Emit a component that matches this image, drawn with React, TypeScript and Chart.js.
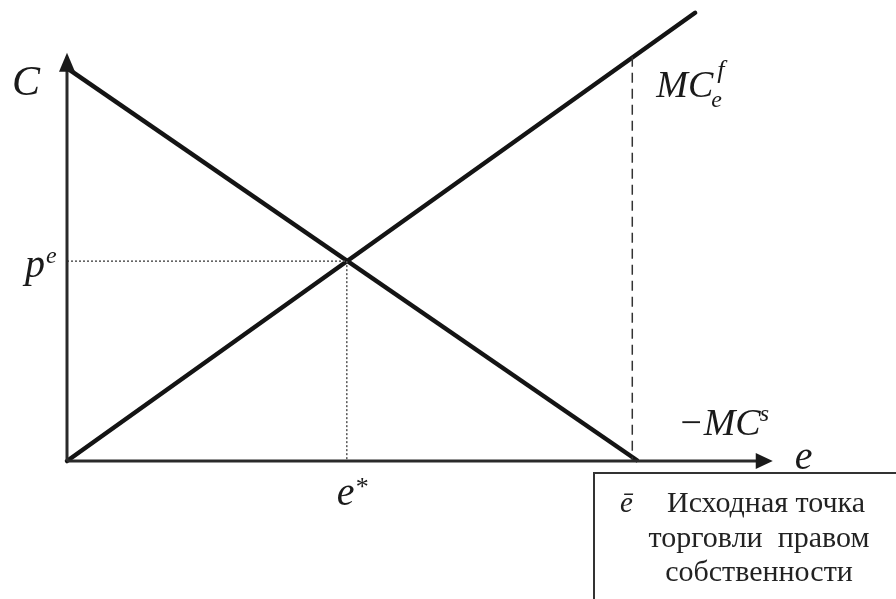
import React, { useEffect, useRef } from "react";
import { Chart, registerables } from "chart.js";

Chart.register(...registerables);

// Economic units (e on x, C on y)
const mcfX = [0, 11.0];
const mcfY = [0, 7.85];
const mcsX = [0, 10.0];
const mcsY = [6.88, 0];
const eStar = 4.9;
const pStar = 3.5;
const eDash = 9.9;
const dashTop = 7.08;
const xAxisEnd = 12.36;
const yAxisEnd = 7.15;

const boxLines = ["Исходная точка", "торговли  правом", "собственности"];

const serif = '"Liberation Serif", "DejaVu Serif", serif';

export default function App() {
  const ref = useRef<HTMLCanvasElement | null>(null);

  useEffect(() => {
    if (!ref.current) return;
    const pts = (xs: number[], ys: number[]) => xs.map((x, i) => ({ x, y: ys[i] }));

    const overlay = {
      id: "overlay",
      afterDatasetsDraw(chart: any) {
        const ctx = chart.ctx as CanvasRenderingContext2D;
        const sx = chart.scales.x;
        const sy = chart.scales.y;
        const X = (v: number) => sx.getPixelForValue(v);
        const Y = (v: number) => sy.getPixelForValue(v);
        ctx.save();
        // arrow heads
        ctx.fillStyle = "#1a1a1a";
        const ox = X(0), oy = Y(0);
        const tx = X(xAxisEnd);
        ctx.beginPath();
        ctx.moveTo(tx, oy);
        ctx.lineTo(tx - 17, oy - 8);
        ctx.lineTo(tx - 17, oy + 8);
        ctx.closePath();
        ctx.fill();
        const ty = Y(yAxisEnd);
        ctx.beginPath();
        ctx.moveTo(ox, ty);
        ctx.lineTo(ox - 8, ty + 19);
        ctx.lineTo(ox + 8, ty + 19);
        ctx.closePath();
        ctx.fill();

        const txt = (s: string, x: number, y: number, size: number, italic = true, color = "#1a1a1a") => {
          ctx.font = `${italic ? "italic " : ""}${size}px ${serif}`;
          ctx.fillStyle = color;
          ctx.textAlign = "left";
          ctx.textBaseline = "alphabetic";
          ctx.fillText(s, x, y);
          return ctx.measureText(s).width;
        };

        // C
        txt("C", ox - 55, ty + 42, 42);
        // p^e
        const py = Y(pStar);
        const wp = txt("p", ox - 42, py + 16, 40);
        txt("e", ox - 42 + wp + 1, py + 2, 24);
        // e*
        const exs = X(eStar);
        const we = txt("e", exs - 10, oy + 44, 40);
        txt("*", exs - 10 + we, oy + 34, 26);
        // e (axis)
        txt("e", tx + 22, oy + 8, 40);
        // MC_e^f
        const mx = X(eDash) + 24;
        const mcy = Y(dashTop) - 3;
        const wmc = txt("MC", mx, mcy + 43, 38);
        txt("e", mx + wmc - 2, mcy + 53, 24);
        txt("f", mx + wmc + 4, mcy + 24, 26);
        // -MC^s
        const sxp = X(mcsX[1]) + 40;
        const wm = txt("\u2212MC", sxp, oy - 26, 38);
        txt("s", sxp + wm - 1, oy - 40, 24);

        // box
        ctx.strokeStyle = "#333";
        ctx.lineWidth = 2;
        ctx.beginPath();
        ctx.moveTo(chart.width, oy + 12);
        ctx.lineTo(594, oy + 12);
        ctx.lineTo(594, chart.height);
        ctx.stroke();
        txt("\u0113", 620, 512, 29, true, "#222");
        txt(boxLines[0], 667, 512, 30, false, "#222");
        ctx.font = `30px ${serif}`;
        const cx = 759;
        [547, 581].forEach((by, i) => {
          const s = boxLines[i + 1];
          const w = ctx.measureText(s).width;
          txt(s, cx - w / 2, by, 30, false, "#222");
        });
        ctx.restore();
      },
    };

    const chart = new Chart(ref.current, {
      type: "scatter",
      data: {
        datasets: [
          {
            data: pts([0, xAxisEnd - 1.0 / 3.5], [0, 0]),
            showLine: true, borderColor: "#2a2a2a", borderWidth: 3, pointRadius: 0,
          },
          {
            data: pts([0, 0], [0, yAxisEnd - 0.3]),
            showLine: true, borderColor: "#2a2a2a", borderWidth: 3, pointRadius: 0,
          },
          {
            data: pts([0, eStar], [pStar, pStar]),
            showLine: true, borderColor: "#555", borderWidth: 1.5, borderDash: [2, 2], pointRadius: 0,
          },
          {
            data: pts([eStar, eStar], [pStar, 0]),
            showLine: true, borderColor: "#555", borderWidth: 1.5, borderDash: [2, 2], pointRadius: 0,
          },
          {
            data: pts([eDash, eDash], [dashTop, 0]),
            showLine: true, borderColor: "#333", borderWidth: 1.5, borderDash: [10, 6], pointRadius: 0,
          },
          {
            data: pts(mcfX, mcfY),
            showLine: true, borderColor: "#141414", borderWidth: 4.5, pointRadius: 0, borderCapStyle: "round",
          },
          {
            data: pts(mcsX, mcsY),
            showLine: true, borderColor: "#141414", borderWidth: 4.5, pointRadius: 0,
          },
        ],
      },
      options: {
        animation: false,
        responsive: false,
        layout: { padding: 0 },
        plugins: { legend: { display: false }, tooltip: { enabled: false } },
        scales: {
          x: { type: "linear", display: false, min: -67 / 57.1, max: (896 - 67) / 57.1 },
          y: { type: "linear", display: false, min: -(599 - 461) / 57.1, max: 461 / 57.1 },
        },
      },
      plugins: [overlay],
    } as any);
    return () => chart.destroy();
  }, []);

  return (
    <div style={{ position: "fixed", left: 0, top: 0, width: 896, height: 599, background: "#fff" }}>
      <canvas ref={ref} width={896} height={599} />
    </div>
  );
}
